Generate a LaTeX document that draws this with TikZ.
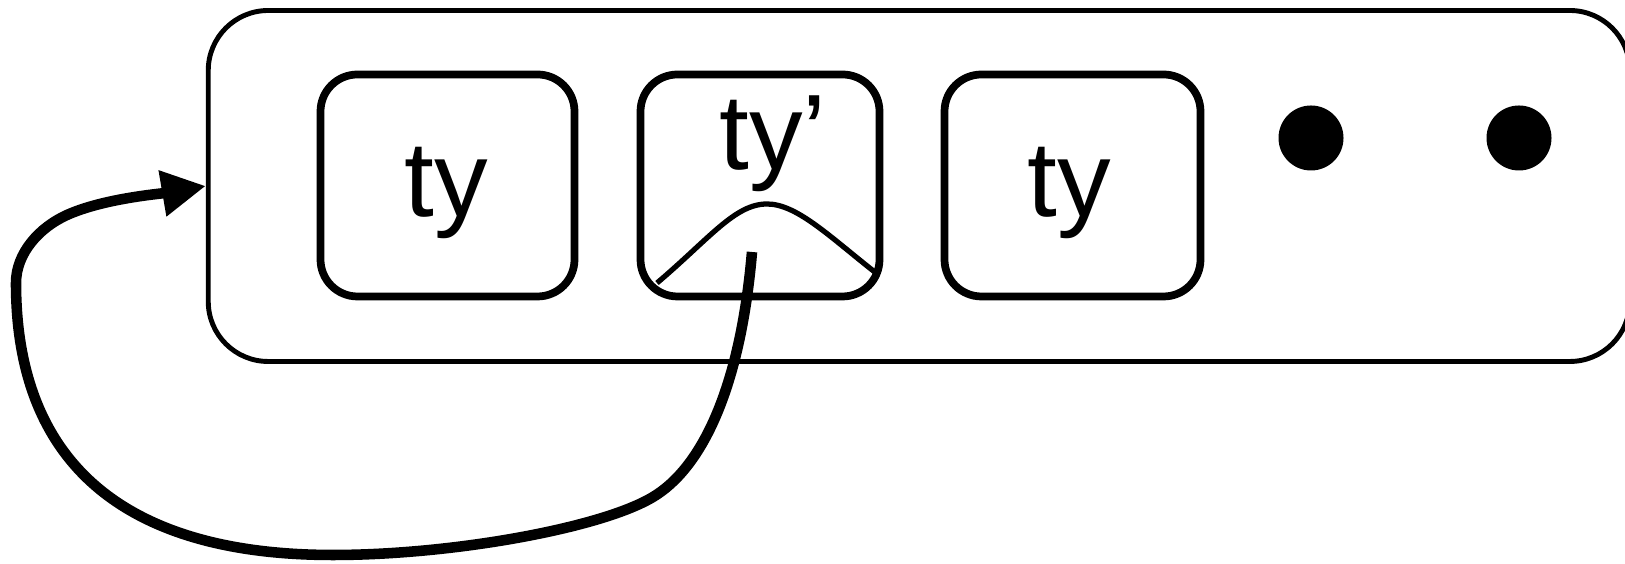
\documentclass[tikz,border=0pt]{standalone}
\usepackage{fontspec}
\setmainfont{Liberation Sans}
\usetikzlibrary{arrows.meta}

\begin{document}
\begin{tikzpicture}[
    frame/.style = {draw, line width=1.4pt, rounded corners=0.6cm, minimum width=14.215cm, minimum height=3.51cm},
    cell/.style = {draw, line width=2.2pt, rounded corners=0.37cm, minimum height=2.22cm, inner sep=0pt},
    dot/.style = {circle, fill, inner sep=0pt, minimum size=0.65cm},
    lbl/.style = {anchor=base, inner sep=0pt, font=\fontsize{30.5}{32}\selectfont},
    link/.style = {line width=3pt, -{Triangle[length=0.44cm, width=0.44cm]}}
]

    \useasboundingbox (0,0) rectangle (16.25,5.64);

    \node[frame] (frame) at (9.19,3.78) {};

    \node[cell, minimum width=2.54cm] (c1) at (4.475,3.785) {};
    \node[cell, minimum width=2.39cm] (c2) at (7.60,3.785) {};
    \node[cell, minimum width=2.56cm] (c3) at (10.725,3.785) {};

    \node[lbl] (l1) at (4.46,3.47) {ty};
    \node[lbl] (l2) at (7.73,3.94) {ty’};
    \node[lbl] (l3) at (10.69,3.47) {ty};

    \node[dot] (d1) at (13.11,4.26) {};
    \node[dot] (d2) at (15.19,4.26) {};

    % hump
    \draw[line width=1.5pt] (6.57,2.81) .. controls (7.1,3.26) and (7.35,3.60) .. (7.67,3.60)
        .. controls (7.97,3.60) and (8.3,3.27) .. (8.76,2.91);

    % loop back
    \coordinate (src) at (7.52,3.12);
    \draw[link] (src) .. controls (7.40,1.72) and (7.0,0.95) .. (6.53,0.67)
        .. controls (6.016,0.36) and (4.53,0.09) .. (3.33,0.09)
        .. controls (1.13,0.09) and (0.16,1.11) .. (0.16,2.81)
        .. controls (0.16,3.11) and (0.396,3.367) .. (0.67,3.49)
        .. controls (1.035,3.654) and (1.59,3.70) .. (frame.west);

\end{tikzpicture}
\end{document}
